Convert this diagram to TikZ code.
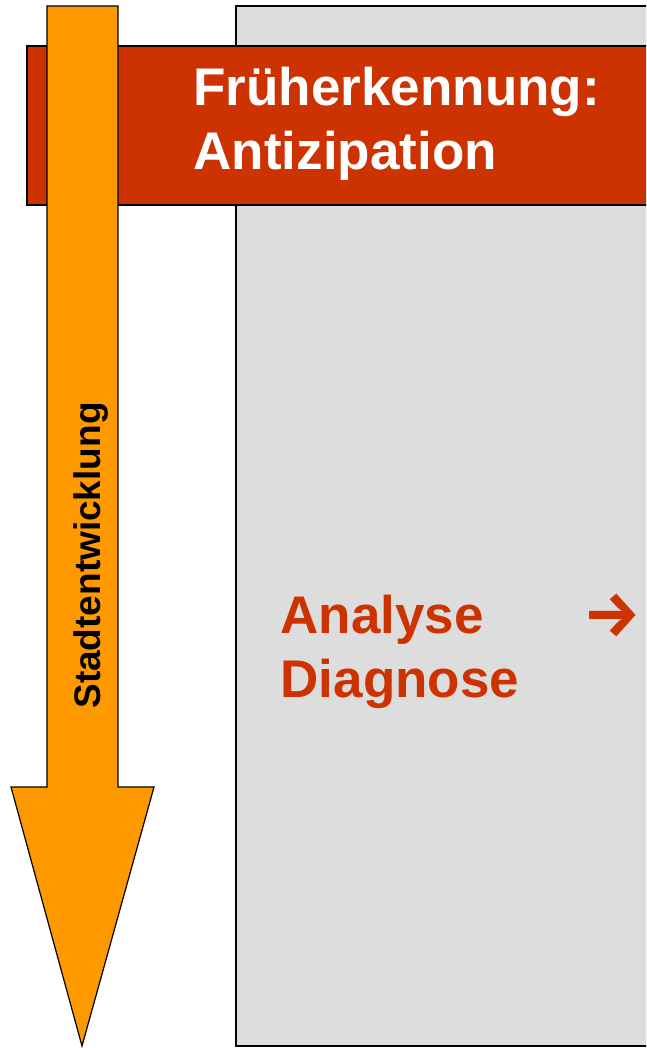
\documentclass[tikz,border=0pt]{standalone}
\usepackage{fontspec}
\setmainfont{Liberation Sans}
\newfontfamily\symfont{Fira Sans}
\definecolor{bandred}{HTML}{CC3300}
\definecolor{arroworange}{HTML}{FF9900}
\definecolor{panelgray}{HTML}{DDDDDD}

\begin{document}
\begin{tikzpicture}[x=1pt, y=-1pt, line width=1.2pt,
    bigtext/.style={font=\bfseries\fontsize{53}{64}\selectfont, inner sep=0pt, align=left}]
  \def\W{646}
  \def\H{1048}
  \useasboundingbox (0,0) rectangle (\W,\H);
  \clip (0,0) rectangle (\W,\H);
  % gray panel and red band, cut at the right edge
  \draw[fill=panelgray] (236,6) rectangle (\W+20,1046);
  \draw[fill=bandred] (27,46) rectangle (\W+20,205);
  % orange arrow
  \coordinate (tip) at (82,1046);
  \draw[fill=arroworange, line join=miter] (47,6) -- (118,6) -- (118,787) -- (154,787)
    -- (tip) -- (11,787) -- (47,787) -- cycle;
  \node[rotate=90, anchor=base, inner sep=0pt, font=\bfseries\fontsize{37}{37}\selectfont]
    (stadt) at (100,555.5) {Stadtentwicklung};
  % texts (base = last line)
  \node[bigtext, text=white, anchor=base west] (frueh) at (193,170)
    {Früherkennung:\\Antizipation};
  \node[bigtext, text=bandred, anchor=base west] (analyse) at (280,697)
    {Analyse\\Diagnose};
  \node[anchor=base, inner sep=0pt, text=bandred, font=\symfont\bfseries\fontsize{64}{64}\selectfont]
    (pfeil) at (612.5,636) {→};
\end{tikzpicture}
\end{document}
